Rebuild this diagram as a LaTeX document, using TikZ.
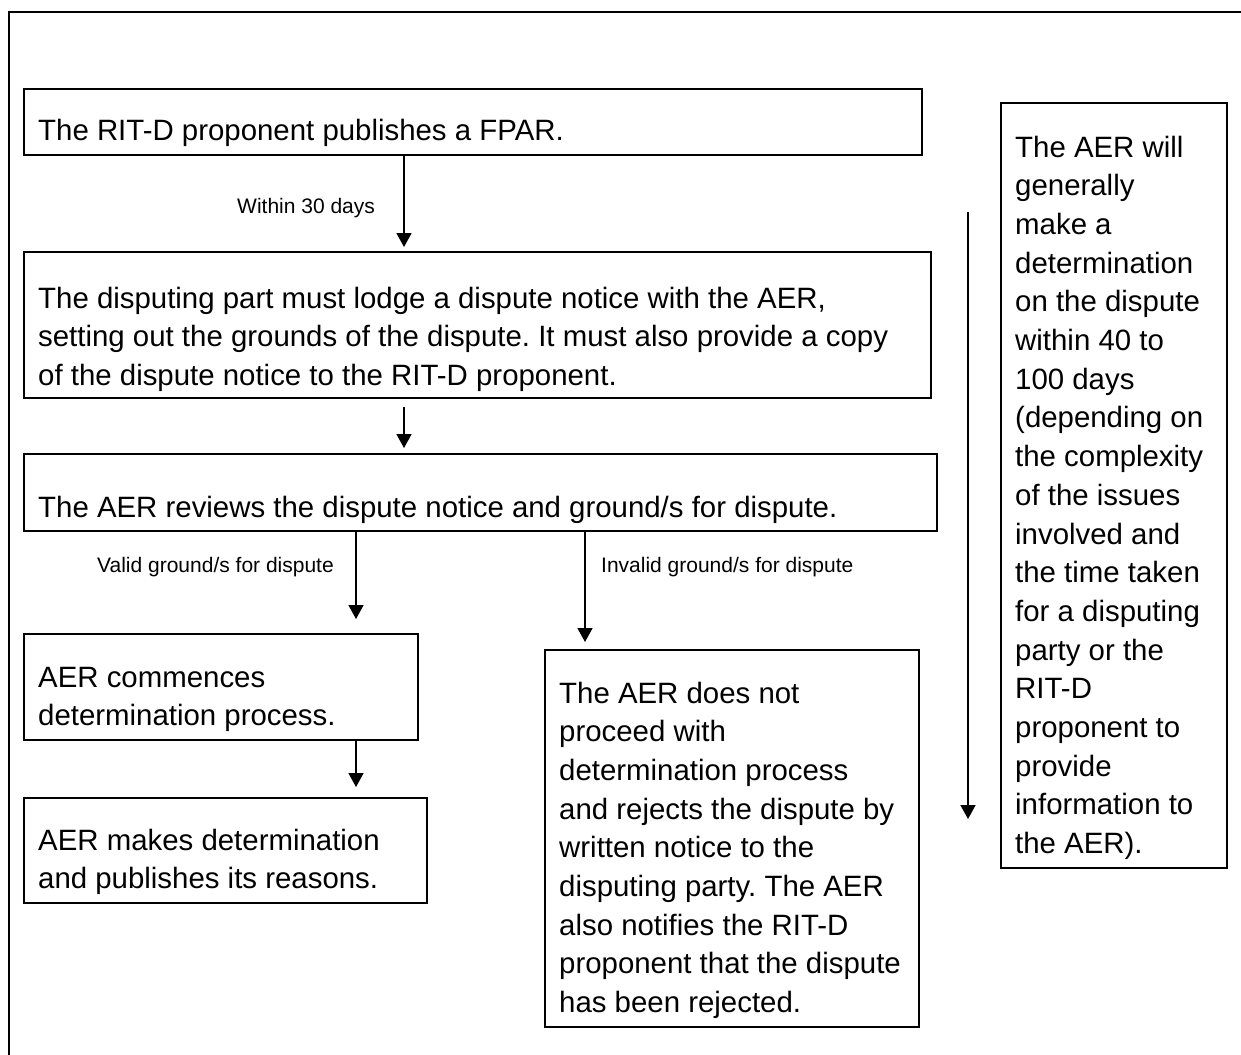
\documentclass[tikz,border=0pt]{standalone}
\usepackage{fontspec}
\setmainfont{Liberation Sans}
\usetikzlibrary{arrows.meta}
\frenchspacing
\newcommand\mainsz{\fontsize{29.4}{38.7}\selectfont\frenchspacing}
\newcommand\smallsz{\fontsize{21}{25}\selectfont}
\newcommand\lines[2]{\parbox[t]{#1}{\raggedright\frenchspacing #2}}
\tikzset{
  box/.style={draw, line width=2.1pt, inner sep=0pt, anchor=north west},
  txt/.style={inner sep=0pt, anchor=base west, font=\mainsz},
  lbl/.style={inner sep=0pt, anchor=base west, font=\smallsz},
  arr/.style={line width=1.6pt, -{Triangle[length=14pt,width=15pt]}},
  frame/.style={line width=2.1pt}
}
\begin{document}
\begin{tikzpicture}[x=1pt,y=-1pt]
\path[use as bounding box] (0,0) rectangle (1241,1054);
\clip (0,0) rectangle (1241,1054);
% outer frame (extends beyond the picture on the right and bottom)
\draw[frame] (9,1100) -- (9,12) -- (1300,12);

% boxes
\node[box, minimum width=898pt, minimum height=66pt]  (b1) at (23,88) {};
\node[box, minimum width=907pt, minimum height=146pt] (b2) at (23,251) {};
\node[box, minimum width=913pt, minimum height=77pt]  (b3) at (23,453) {};
\node[box, minimum width=394pt, minimum height=106pt] (b4) at (23,633) {};
\node[box, minimum width=374pt, minimum height=377pt] (b5) at (544,649) {};
\node[box, minimum width=403pt, minimum height=105pt] (b6) at (23,797) {};
\node[box, minimum width=226pt, minimum height=765pt] (rb) at (1000,102) {};

% texts
\node[txt] (t1) at (38,140) {The RIT-D proponent publishes a FPAR.};
\node[txt] (t2) at (38,308) {\lines{880pt}{The disputing part must lodge a dispute notice with the AER,\\
setting out the grounds of the dispute. It must also provide a copy\\
of the dispute notice to the RIT-D proponent.}};
\node[txt] (t3) at (38,517) {The AER reviews the dispute notice and ground/s for dispute.};
\node[txt] (t4) at (38,687) {\lines{370pt}{AER commences\\determination process.}};
\node[txt] (t6) at (38,850) {\lines{380pt}{AER makes determination\\and publishes its reasons.}};
\node[txt] (t5) at (559,703) {\lines{350pt}{The AER does not\\proceed with\\determination process\\and rejects the dispute by\\written notice to the\\disputing party. The AER\\also notifies the RIT-D\\proponent that the dispute\\has been rejected.}};
\node[txt] (t7) at (1015,157) {\lines{205pt}{The AER will\\generally\\make a\\determination\\on the dispute\\within 40 to\\100 days\\(depending on\\the complexity\\of the issues\\involved and\\the time taken\\for a disputing\\party or the\\RIT-D\\proponent to\\provide\\information to\\the AER).}};

% labels
\node[lbl] (l1) at (237,213) {Within 30 days};
\node[lbl] (l2) at (97,572) {Valid ground/s for dispute};
\node[lbl] (l3) at (601,572) {Invalid ground/s for dispute};

% connector positions
\coordinate (xa) at (404,0);
\coordinate (xv) at (356,0);
\coordinate (xi) at (585,0);
\coordinate (ra1) at (968,212);
\coordinate (ra2) at (968,819);

\draw[arr, shorten >=4pt] (b1.south -| xa) -- (b2.north -| xa);
\draw[arr, shorten <=8pt, shorten >=5pt] (b2.south -| xa) -- (b3.north -| xa);
\draw[arr, shorten >=14pt] (b3.south -| xv) -- (b4.north -| xv);
\draw[arr, shorten >=7pt] (b3.south -| xi) -- (b5.north -| xi);
\draw[arr, shorten >=10pt] (b4.south -| xv) -- (b6.north -| xv);
\draw[arr] (ra1) -- (ra2);
\end{tikzpicture}
\end{document}
